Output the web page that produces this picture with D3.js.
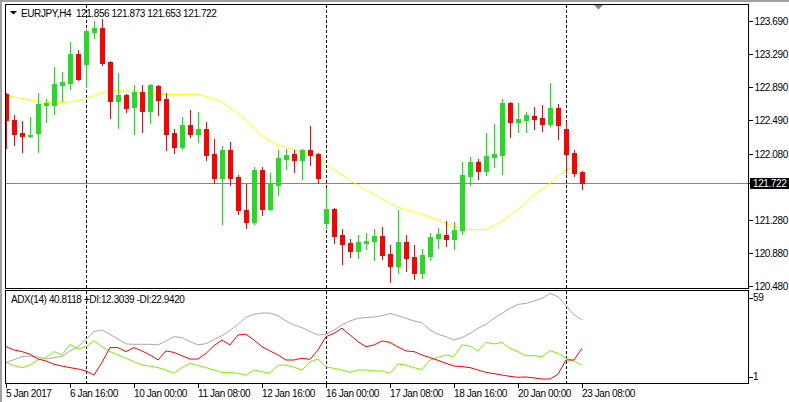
<!DOCTYPE html>
<html><head><meta charset="utf-8">
<script src="https://cdn.jsdelivr.net/npm/d3@7"></script>
<style>
html,body{margin:0;padding:0;background:#fff;}
svg{display:block;font-family:"Liberation Sans",Arial,sans-serif;}
text{white-space:pre;}
</style></head>
<body><svg id="c" width="789" height="402"></svg>
<script>
// ---- data ----
const symbolTitle = "EURJPY,H4  121.856 121.873 121.653 121.722";
const adxTitle = "ADX(14) 40.8118 +DI:12.3039 -DI:22.9420";
const openP = [122.805,122.490,122.332,122.296,122.332,122.672,122.672,122.914,122.938,123.290,
123.169,123.557,123.605,123.193,122.724,122.793,122.651,122.829,122.603,122.902,
122.745,122.332,122.163,122.429,122.320,122.381,122.078,121.787,122.126,121.799,
121.399,121.254,121.884,121.411,121.702,122.017,122.078,122.005,122.126,122.078,
121.242,121.411,121.096,120.999,120.902,120.999,121.023,121.084,120.866,120.720,
121.011,120.829,120.635,120.841,121.060,121.096,121.048,121.157,121.811,121.981,
121.872,122.042,122.066,122.696,122.466,122.490,122.538,122.514,122.442,122.635,
122.381,122.090,121.856];
const highP = [122.817,122.551,122.478,122.526,122.817,122.745,123.132,123.072,123.435,123.338,
123.593,123.690,123.714,123.200,123.060,122.805,122.914,122.914,122.926,122.914,
122.817,122.381,122.526,122.611,122.587,122.466,122.260,122.175,122.223,121.823,
121.714,121.920,121.920,121.848,122.126,122.138,122.126,122.138,122.417,122.090,
121.666,121.423,121.169,121.048,121.096,121.120,121.169,121.193,120.975,121.399,
121.096,120.975,120.926,121.120,121.181,121.266,121.254,121.981,122.042,122.017,
122.332,122.442,122.745,122.705,122.696,122.587,122.648,122.672,122.938,122.684,
122.466,122.126,121.873];
const lowP = [122.151,122.187,122.102,122.284,122.102,122.466,122.563,122.720,122.866,122.980,
122.890,123.484,123.157,122.518,122.397,122.587,122.324,122.348,122.457,122.551,
122.126,122.090,122.138,122.284,122.223,122.005,121.726,121.229,121.702,121.351,
121.181,121.229,121.338,121.399,121.581,121.896,121.860,121.775,121.945,121.726,
121.181,120.999,120.745,120.829,120.817,120.926,120.793,120.805,120.526,120.635,
120.660,120.563,120.575,120.793,120.938,120.963,120.926,121.108,121.702,121.775,
121.823,121.920,121.835,122.284,122.345,122.345,122.381,122.357,122.417,122.260,
121.848,121.811,121.653];
const closeP = [122.490,122.320,122.296,122.308,122.684,122.690,122.926,122.951,123.290,122.987,
123.569,123.605,123.181,122.724,122.793,122.639,122.829,122.603,122.914,122.732,
122.320,122.163,122.429,122.320,122.381,122.066,121.787,122.126,121.787,121.399,
121.254,121.884,121.411,121.714,122.029,122.066,122.005,122.126,122.066,121.787,
121.411,121.084,120.987,120.902,121.011,121.023,121.084,120.854,120.720,121.011,
120.817,120.635,120.854,121.072,121.108,121.048,121.157,121.823,121.981,121.872,
122.054,122.078,122.696,122.466,122.502,122.551,122.502,122.442,122.635,122.429,
122.078,121.848,121.722];
const maP = [122.781,122.769,122.751,122.732,122.714,122.702,122.700,122.702,122.708,122.726,
122.751,122.781,122.823,122.841,122.841,122.841,122.835,122.823,122.805,122.799,
122.799,122.799,122.799,122.801,122.799,122.775,122.745,122.702,122.641,122.569,
122.490,122.393,122.302,122.235,122.187,122.157,122.126,122.108,122.084,122.029,
121.951,121.884,121.823,121.757,121.696,121.635,121.587,121.532,121.478,121.429,
121.399,121.375,121.345,121.311,121.278,121.235,121.199,121.172,121.157,121.157,
121.163,121.205,121.266,121.332,121.405,121.484,121.587,121.654,121.720,121.811,
121.884,121.914,121.945];
const adxMain = [14.0,15.7,17.6,18.0,17.4,16.1,17.0,17.8,21.2,23.9,
28.5,33.4,34.4,31.7,28.7,25.6,25.4,25.4,25.4,25.0,
27.5,30.2,29.6,27.1,25.0,25.8,28.5,30.8,34.2,38.0,
42.4,44.3,45.1,45.1,43.4,40.1,37.6,35.9,33.4,31.3,
31.7,34.4,37.6,40.1,41.8,42.2,42.6,43.4,44.9,43.4,
41.8,40.1,39.0,34.4,31.7,30.2,28.1,29.6,32.3,35.5,
38.0,41.8,44.9,48.1,50.6,51.2,52.7,54.4,57.5,55.4,
49.8,43.9,40.81];
const minusDI = [23.9,21.8,20.8,19.1,16.1,14.9,12.8,11.7,10.7,9.8,
8.6,6.0,14.0,23.3,23.3,20.8,23.3,21.2,18.7,15.5,
21.2,20.3,18.2,16.1,16.1,19.7,24.5,28.1,25.0,31.3,
31.7,28.1,23.9,21.2,18.7,15.5,15.5,16.6,15.9,21.8,
30.2,32.3,35.5,31.3,27.1,23.9,25.0,27.5,26.6,23.7,
21.2,20.8,18.7,17.0,15.3,13.4,11.7,11.3,10.7,9.2,
7.7,6.9,6.0,5.2,4.6,4.8,4.2,3.5,3.5,6.5,
15.5,15.5,22.94];
const plusDI = [14.0,11.9,10.7,12.3,15.5,17.0,20.8,18.7,25.4,22.4,
23.9,27.7,23.9,20.8,18.7,16.6,14.4,12.3,11.7,10.7,
9.2,7.1,10.7,13.4,11.9,10.7,9.2,7.7,7.7,7.1,
6.0,9.2,8.1,7.1,12.3,12.3,10.9,9.2,14.4,16.1,
11.3,10.2,9.2,7.7,9.2,9.2,8.6,8.6,7.1,13.0,
12.3,10.7,9.4,15.5,17.2,18.7,17.6,25.0,24.3,21.2,
26.6,25.6,26.6,22.9,20.8,18.2,18.2,17.6,21.4,19.7,
16.6,14.9,12.30];
const timeTickIdx = [0,8,16,24,32,40,48,56,64,72];
const timeTickLabels = ["5 Jan 2017","6 Jan 16:00","10 Jan 00:00","11 Jan 08:00","12 Jan 16:00","16 Jan 00:00","17 Jan 08:00","18 Jan 16:00","20 Jan 00:00","23 Jan 08:00"];
const weekSeparators = [10,40,70];
const priceTicks = [123.690,123.290,122.890,122.490,122.080,121.280,120.880,120.480];
const bidPrice = 121.722;
const adxTicks = [59,1];

// ---- layout ----
const svg = d3.select("#c");
const L = 5.5, R = 748.5, mainTop = 4.5, mainBot = 288.5, subTop = 290.5, subBot = 383.5;
const N = closeP.length;
const x = d3.scaleLinear().domain([0, N-1]).range([6, 582]);
const y = d3.scaleLinear().domain([120.480, 123.690]).range([285.5, 21]);
const yA = d3.scaleLinear().domain([1, 59]).range([383, 291]);

// window chrome
svg.append("rect").attr("x",0).attr("y",0).attr("width",789).attr("height",2).attr("fill","#a0a0a0");
svg.append("rect").attr("x",0).attr("y",0).attr("width",2).attr("height",402).attr("fill","#a0a0a0");

// clip paths
const defs = svg.append("defs");
defs.append("clipPath").attr("id","cm").append("rect").attr("x",L+0.5).attr("y",mainTop+0.5).attr("width",R-L-1).attr("height",mainBot-mainTop-1);
defs.append("clipPath").attr("id","cs").append("rect").attr("x",L+0.5).attr("y",subTop+0.5).attr("width",R-L-1).attr("height",subBot-subTop-1);

const gm = svg.append("g").attr("clip-path","url(#cm)");
const gs = svg.append("g").attr("clip-path","url(#cs)");

// bid line
gm.append("line").attr("x1",L).attr("x2",R).attr("y1",Math.round(y(bidPrice))+0.5).attr("y2",Math.round(y(bidPrice))+0.5)
  .attr("stroke","#7d8893").attr("stroke-width",1).attr("shape-rendering","crispEdges");

// week separators
weekSeparators.forEach(i=>{
  const xx = Math.round(x(i))+0.5;
  gm.append("line").attr("x1",xx).attr("x2",xx).attr("y1",mainTop).attr("y2",mainBot)
    .attr("stroke","#000").attr("stroke-dasharray","3,2").attr("shape-rendering","crispEdges");
  gs.append("line").attr("x1",xx).attr("x2",xx).attr("y1",subTop).attr("y2",subBot)
    .attr("stroke","#000").attr("stroke-dasharray","3,2").attr("shape-rendering","crispEdges");
});

// MA
gm.append("path").datum(maP).attr("fill","none").attr("stroke","#ffff00").attr("stroke-width",1)
  .attr("d", d3.line().x((d,i)=>x(i)).y(d=>y(d)));

// candles
const candles = gm.append("g").attr("shape-rendering","crispEdges");
for (let i=0;i<N;i++){
  const up = closeP[i] >= openP[i];
  const cx = Math.round(x(i));
  const wick = up ? "#00f000" : "#ff0000";
  const body = up ? "#22dd22" : "#ff0000";
  candles.append("line").attr("x1",cx+0.5).attr("x2",cx+0.5)
    .attr("y1",Math.round(y(highP[i]))).attr("y2",Math.round(y(lowP[i]))+1)
    .attr("stroke",wick).attr("stroke-width",1);
  const yt = Math.round(y(Math.max(openP[i],closeP[i])));
  const yb = Math.round(y(Math.min(openP[i],closeP[i])));
  candles.append("rect").attr("x",cx-2).attr("y",yt).attr("width",5).attr("height",Math.max(1,yb-yt+1))
    .attr("fill",body);
}

// ADX lines
const la = d3.line().x((d,i)=>x(i)).y(d=>yA(d));
gs.append("path").datum(adxMain).attr("fill","none").attr("stroke","#a8a8a8").attr("stroke-width",1).attr("d",la);
gs.append("path").datum(plusDI).attr("fill","none").attr("stroke","#7cf000").attr("stroke-width",1).attr("d",la);
gs.append("path").datum(minusDI).attr("fill","none").attr("stroke","#ff0000").attr("stroke-width",1).attr("d",la);

// frames
svg.append("rect").attr("x",L).attr("y",mainTop).attr("width",R-L).attr("height",mainBot-mainTop)
  .attr("fill","none").attr("stroke","#000").attr("shape-rendering","crispEdges");
svg.append("rect").attr("x",L).attr("y",subTop).attr("width",R-L).attr("height",subBot-subTop)
  .attr("fill","none").attr("stroke","#000").attr("shape-rendering","crispEdges");

// price axis
const fontSz = "10px", ls = "-0.4px";
const pa = svg.append("g").attr("transform",`translate(${R},0)`)
  .call(d3.axisRight(y).tickValues(priceTicks).tickSize(4).tickPadding(2).tickFormat(d=>d.toFixed(3)));
pa.select(".domain").remove();
pa.selectAll("line").attr("stroke","#000").attr("shape-rendering","crispEdges");
pa.selectAll("text").attr("font-size",fontSz).attr("letter-spacing",ls).attr("fill","#000")
  .attr("font-family","Liberation Sans, Arial, sans-serif").attr("dy","0.36em");

// bid box
const yb = y(bidPrice);
svg.append("line").attr("x1",R).attr("x2",R+4).attr("y1",Math.round(yb)+0.5).attr("y2",Math.round(yb)+0.5).attr("stroke","#000");
svg.append("rect").attr("x",750).attr("y",Math.round(yb)-5).attr("width",39).attr("height",11).attr("fill","#000");
svg.append("text").attr("x",753).attr("y",yb).attr("dy","0.36em").attr("font-size",fontSz).attr("letter-spacing",ls)
  .attr("fill","#fff").text(bidPrice.toFixed(3));

// ADX axis
adxTicks.forEach((v,k)=>{
  const yy = k===0 ? yA(v)+6.5 : yA(v)-6.5;
  svg.append("line").attr("x1",R).attr("x2",R+4).attr("y1",Math.round(yy)+0.5).attr("y2",Math.round(yy)+0.5).attr("stroke","#000").attr("shape-rendering","crispEdges");
  svg.append("text").attr("x",753).attr("y",yy).attr("dy","0.36em").attr("font-size",fontSz).attr("letter-spacing",ls)
    .attr("fill","#000").text(String(v));
});

// time axis
const ta = svg.append("g").attr("transform",`translate(0,${subBot})`)
  .call(d3.axisBottom(x).tickValues(timeTickIdx).tickSize(4).tickFormat((d,i)=>timeTickLabels[i]));
ta.select(".domain").remove();
ta.selectAll(".tick line").attr("stroke","#000").attr("shape-rendering","crispEdges");
ta.selectAll("text").attr("text-anchor","start").attr("x",-0.5).attr("y",13).attr("dy","0")
  .attr("font-size",fontSz).attr("letter-spacing",ls).attr("fill","#000").attr("font-family","Liberation Sans, Arial, sans-serif");

// titles
svg.append("path").attr("d","M10,11 L17,11 L13.5,14.5 Z").attr("fill","#000");
svg.append("text").attr("x",21).attr("y",16.5).attr("font-size",fontSz).attr("letter-spacing",ls).attr("fill","#000").text(symbolTitle);
svg.append("text").attr("x",11).attr("y",303).attr("font-size",fontSz).attr("letter-spacing",ls).attr("fill","#000").text(adxTitle);

// chart shift marker
svg.append("path").attr("d","M594,5 L603,5 L598.5,9.5 Z").attr("fill","#7b8794");
</script></body></html>
